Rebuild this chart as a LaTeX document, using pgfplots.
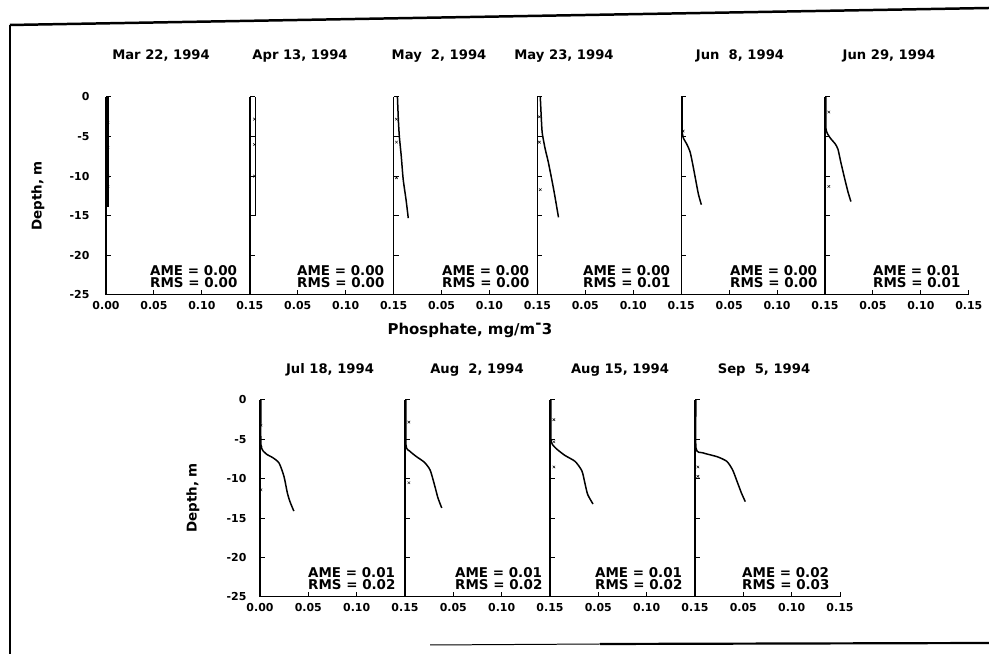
\documentclass[border=0pt]{standalone}
\usepackage{fontspec}
\setmainfont{DejaVu Sans}
\usepackage{pgfplots}
\pgfplotsset{compat=1.18}
\newcommand{\ttlfont}{\fontsize{13.2}{14}\selectfont\bfseries}
\newcommand{\amefont}{\fontsize{13.5}{14}\selectfont\bfseries}
\newcommand{\ame}[4]{%
  \node[anchor=base west, inner sep=0, font=\amefont] at (#1,#2+12.5) {AME = #3};
  \node[anchor=base west, inner sep=0, font=\amefont] at (#1,#2) {RMS = #4};}
\pgfplotsset{
  panel/.style={scale only axis, xmin=0, xmax=0.15, ymin=-25, ymax=0,
    axis x line=bottom, axis y line=left,
    axis line style={-, line width=1.4pt, black},
    x axis line style={line width=1pt},
    tick align=inside,
    ytick={-25,-20,-15,-10,-5,0}, yticklabels={},
    xtick={0.05,0.10,0.15}, xticklabels={0.05,0.10,0.15},
    major tick length=5bp,
    every tick/.style={black, line width=1pt},
    tick label style={font=\fontsize{11}{11}\selectfont\bfseries},
    xticklabel style={yshift=-3bp},
    clip=false, anchor=south west},
  toprow/.style={width=143.8bp, height=198bp},
  botrow/.style={width=145bp, height=197bp},
  curve/.style={black, line width=1.5pt, smooth, tension=0.4},
  obs/.style={black, only marks, mark=x, mark size=1.8bp, line width=0.5pt}
}
\begin{document}
\begin{tikzpicture}[x=1bp,y=1bp]
\path[use as bounding box, fill=white] (0,0) rectangle (989,654);
% frame of the scan
\draw[line width=2.5pt] (10,629) -- (989,646);
\draw[line width=2pt] (10,629) -- (10,0);
\draw[line width=1pt] (430,9) -- (600,10);
\draw[line width=2.2pt] (600,10) -- (989,11);

% ---------------- top row ----------------
\begin{axis}[panel, toprow, at={(106bp,359bp)},
  xtick={0,0.05,0.10,0.15}, xticklabels={0.00,0.05,0.10,0.15},
  yticklabels={-25,-20,-15,-10,-5,0}, yticklabel style={xshift=-13bp}]
\addplot[curve] coordinates {(0.002,0) (0.002,-13.9)};
\addplot[obs] coordinates {(0.002,-3.2) (0.002,-6.4) (0.002,-10) (0.002,-11.3)};
\end{axis}
\begin{axis}[panel, toprow, at={(249.8bp,359bp)}]
\addplot[curve] coordinates {(0.006,0) (0.006,-15)};
\addplot[obs] coordinates {(0.005,-2.8) (0.005,-6) (0.005,-10)};
\end{axis}
\begin{axis}[panel, toprow, at={(393.6bp,359bp)}]
\addplot[curve] coordinates {(0.004,0) (0.005,-3) (0.006,-5) (0.008,-7.5) (0.010,-10.4) (0.013,-13) (0.0153,-15.3)};
\addplot[obs] coordinates {(0.003,-2.8) (0.003,-5.7) (0.003,-10.2)};
\end{axis}
\begin{axis}[panel, toprow, at={(537.4bp,359bp)}]
\addplot[curve] coordinates {(0.003,0) (0.004,-2.5) (0.005,-4.5) (0.008,-6.5) (0.0115,-8.3) (0.017,-11.7) (0.022,-15.2)};
\addplot[obs] coordinates {(0.002,-2.5) (0.002,-5.7) (0.003,-11.7)};
\end{axis}
\begin{axis}[panel, toprow, at={(681.2bp,359bp)}]
\addplot[curve] coordinates {(0.001,0) (0.001,-4) (0.002,-5.1) (0.006,-6) (0.0094,-7) (0.0125,-8.8) (0.0156,-10.8) (0.018,-12.3) (0.021,-13.6)};
\addplot[obs] coordinates {(0.002,-4.3)};
\end{axis}
\begin{axis}[panel, toprow, at={(825bp,359bp)}]
\addplot[curve] coordinates {(0.001,0) (0.001,-4) (0.005,-5.1) (0.0105,-5.9) (0.0135,-6.6) (0.0166,-8.3) (0.0207,-10.4) (0.024,-12) (0.027,-13.2)};
\addplot[obs] coordinates {(0.004,-1.9) (0.004,-11.3)};
\end{axis}

% ---------------- bottom row ----------------
\begin{axis}[panel, botrow, at={(260bp,57bp)},
  xtick={0,0.05,0.10,0.15}, xticklabels={0.00,0.05,0.10,0.15},
  yticklabels={-25,-20,-15,-10,-5,0}, yticklabel style={xshift=-10bp}]
\addplot[curve] coordinates {(0.001,0) (0.001,-5.7) (0.006,-6.8) (0.013,-7.3) (0.0197,-8.0) (0.0248,-9.7) (0.0283,-11.8) (0.031,-12.9) (0.035,-14.1)};
\addplot[obs] coordinates {(0.001,-3.2) (0.001,-6) (0.001,-11.4)};
\end{axis}
\begin{axis}[panel, botrow, at={(405bp,57bp)}]
\addplot[curve] coordinates {(0.001,0) (0.001,-5.7) (0.005,-6.5) (0.012,-7.2) (0.02,-7.9) (0.026,-8.9) (0.031,-11) (0.034,-12.4) (0.038,-13.7)};
\addplot[obs] coordinates {(0.004,-2.8) (0.004,-10.5)};
\end{axis}
\begin{axis}[panel, botrow, at={(550bp,57bp)}]
\addplot[curve] coordinates {(0.001,0) (0.001,-5) (0.005,-6) (0.015,-7) (0.026,-7.8) (0.033,-9) (0.036,-10.5) (0.039,-12) (0.0445,-13.2)};
\addplot[obs] coordinates {(0.004,-2.5) (0.004,-5.3) (0.004,-8.5)};
\end{axis}
\begin{axis}[panel, botrow, at={(695bp,57bp)}]
\addplot[curve] coordinates {(0.001,0) (0.001,-6.1) (0.008,-6.7) (0.023,-7.2) (0.033,-7.8) (0.039,-8.9) (0.044,-10.5) (0.048,-11.8) (0.052,-12.9)};
\addplot[obs] coordinates {(0.003,-8.5) (0.003,-9.7)};
\end{axis}

% ---------------- titles ----------------
\node[font=\ttlfont] at (161,598) {Mar 22, 1994};
\node[font=\ttlfont] at (300,598) {Apr 13, 1994};
\node[font=\ttlfont] at (439,598) {May\ \ 2, 1994};
\node[font=\ttlfont] at (564,598) {May 23, 1994};
\node[font=\ttlfont] at (740,598) {Jun\ \ 8, 1994};
\node[font=\ttlfont] at (889,598) {Jun 29, 1994};
\node[font=\ttlfont] at (330,284) {Jul 18, 1994};
\node[font=\ttlfont] at (477,284) {Aug\ \ 2, 1994};
\node[font=\ttlfont] at (620,284) {Aug 15, 1994};
\node[font=\ttlfont] at (764,284) {Sep\ \ 5, 1994};

% axis labels
\node[font=\fontsize{15}{16}\selectfont\bfseries] at (470,324) {Phosphate, mg/m$^{\textbf{-}}$3};
\node[font=\fontsize{13.5}{14}\selectfont\bfseries, rotate=90] at (38,458) {Depth, m};
\node[font=\fontsize{13.5}{14}\selectfont\bfseries, rotate=90] at (193,156) {Depth, m};

% AME / RMS
\ame{150}{366}{0.00}{0.00}
\ame{297}{366}{0.00}{0.00}
\ame{442}{366}{0.00}{0.00}
\ame{583}{366}{0.00}{0.01}
\ame{730}{366}{0.00}{0.00}
\ame{873}{366}{0.01}{0.01}
\ame{308}{64}{0.01}{0.02}
\ame{455}{64}{0.01}{0.02}
\ame{595}{64}{0.01}{0.02}
\ame{742}{64}{0.02}{0.03}
\end{tikzpicture}
\end{document}
